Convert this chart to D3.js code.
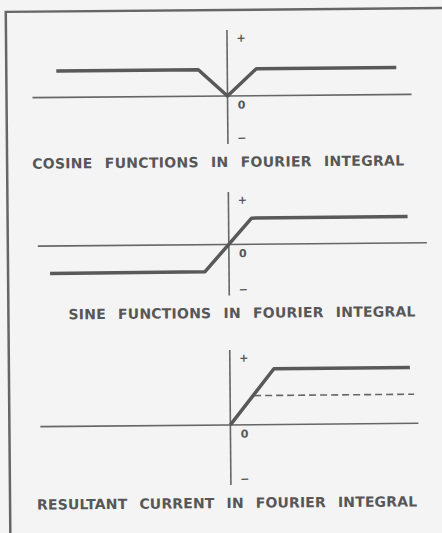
<!DOCTYPE html>
<html>
<head>
<meta charset="utf-8">
<script src="https://cdn.jsdelivr.net/npm/d3@7"></script>
<style>
  body { margin: 0; background: #f4f4f4; }
  .title-styling { font-family: "DejaVu Sans", sans-serif; font-size: 14px; font-weight: bold; fill: #575757; word-spacing: 7px; }
  .sign-styling { font-family: "DejaVu Sans", sans-serif; font-size: 11px; font-weight: bold; fill: #575757; }
</style>
</head>
<body>
<div id="viz"></div>
<script>

const width = 442, height = 533;

// panel titles
const titles = [
  "COSINE FUNCTIONS IN FOURIER INTEGRAL",
  "SINE FUNCTIONS IN FOURIER INTEGRAL",
  "RESULTANT CURRENT IN FOURIER INTEGRAL"
];

// curve points, [t, value]
const cosineCurve = [[-8.55, 0.88], [-1.45, 0.88], [0, 0], [1.45, 0.9], [8.45, 0.9]];
const sineCurve = [[-8.95, -0.92], [-1.2, -0.9], [1.15, 0.87], [8.95, 0.88]];
const resultCurve = [[0, 0], [2.2, 1.86], [9.0, 1.86]];
const resultDashed = [[1.2, 0.97], [9.2, 0.97]];

// axis extents [tMin, tMax, vMin, vMax]
const axisExtents = [
  [-9.75, 9.2, -1.6, 2.2],
  [-9.55, 9.9, -1.7, 1.75],
  [-9.5, 9.4, -2.0, 2.5]
];

const signLabels = ["+", "0", "\u2212"];

// layout of each panel
const panels = [
  {origin: 96, curves: [cosineCurve], dashed: [], titleX: [33, 405], titleY: 167},
  {origin: 244.5, curves: [sineCurve], dashed: [], titleX: [68, 415], titleY: 318},
  {origin: 425, curves: [resultCurve], dashed: [resultDashed], titleX: [35, 415], titleY: 508}
];

const svg = d3.select("#viz")
  .append("svg")
  .attr("width", width)
  .attr("height", height)
  .append("g")
    .attr("transform", "rotate(-0.5, 221, 266)");

// frame
svg.append("path")
  .attr("d", "M8,534 L8,10 L446,10")
  .attr("fill", "none")
  .attr("stroke", "#666")
  .attr("stroke-width", 2.5);

const x = d3.scaleLinear()
  .domain([-10, 10])
  .range([29, 429]);

const line = d3.line();

panels.forEach((p, i) => {
  const y = d3.scaleLinear()
    .domain([-1, 1])
    .range([p.origin + 30, p.origin - 30]);
  const ext = axisExtents[i];
  const g = svg.append("g");

  // axes
  g.append("line")
    .attr("x1", x(ext[0])).attr("x2", x(ext[1]))
    .attr("y1", y(0)).attr("y2", y(0))
    .attr("stroke", "#666").attr("stroke-width", 1.6);
  g.append("line")
    .attr("x1", x(0)).attr("x2", x(0))
    .attr("y1", y(ext[2])).attr("y2", y(ext[3]))
    .attr("stroke", "#666").attr("stroke-width", 1.6);

  // curves
  p.curves.forEach(c => {
    g.append("path")
      .attr("d", line(c.map(d => [x(d[0]), y(d[1])])))
      .attr("fill", "none")
      .attr("stroke", "#595959")
      .attr("stroke-width", 3.5)
      .attr("stroke-linejoin", "round");
  });
  p.dashed.forEach(c => {
    g.append("path")
      .attr("d", line(c.map(d => [x(d[0]), y(d[1])])))
      .attr("fill", "none")
      .attr("stroke", "#666")
      .attr("stroke-width", 1.6)
      .attr("stroke-dasharray", "7,4");
  });

  // sign labels
  const signY = [y(ext[3]) + 12, y(0) + 13, y(ext[2]) - 2];
  signLabels.forEach((s, k) => {
    g.append("text")
      .attr("class", "sign-styling")
      .attr("x", x(0) + 14)
      .attr("y", signY[k])
      .attr("text-anchor", "middle")
      .text(s);
  });

  // title
  g.append("text")
    .attr("class", "title-styling")
    .attr("x", p.titleX[0])
    .attr("y", p.titleY)
    .attr("textLength", p.titleX[1] - p.titleX[0])
    .attr("lengthAdjust", "spacing")
    .text(titles[i]);
});

</script>
</body>
</html>
